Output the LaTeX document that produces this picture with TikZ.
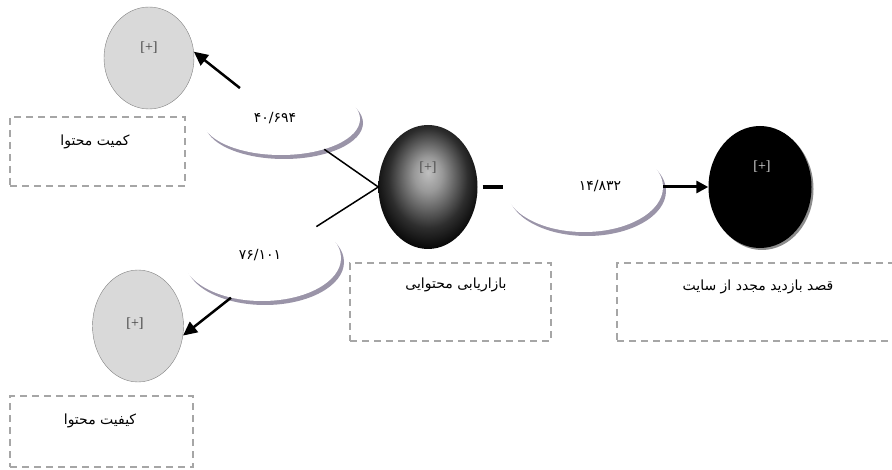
\documentclass[tikz,border=0pt]{standalone}
\usepackage{fontspec}
\setmainfont{Liberation Serif}
\newfontfamily\arabicfont[Script=Arabic]{DejaVu Sans}
\TeXXeTstate=1
\usetikzlibrary{shapes.geometric,shadows,arrows.meta}
\definecolor{greynode}{HTML}{D9D9D9}
\definecolor{boxgrey}{HTML}{A6A6A6}
\definecolor{shadowpurple}{HTML}{9A94A8}
\pgfdeclareradialshading{mktball}{\pgfpoint{0bp}{6bp}}{color(0bp)=(black!25); color(7bp)=(black!40); color(20bp)=(black!82); color(29bp)=(black); color(50bp)=(black)}

\begin{document}
\begin{tikzpicture}[x=1pt,y=-1pt]
            \tikzstyle{grey node}=[ellipse,draw=black!50,fill=greynode,inner sep=0pt]
            \tikzstyle{value node}=[ellipse,fill=white,inner sep=0pt,minimum width=158pt,drop shadow={fill=shadowpurple,opacity=1,shadow xshift=3pt,shadow yshift=-4pt}]
            \tikzstyle{label box}=[draw=boxgrey,line width=1.5pt,dash pattern=on 7pt off 5pt,inner sep=0pt]
            \tikzstyle{plus text}=[text=black!75,font=\fontsize{14}{16}\selectfont]
            \tikzstyle{fa text}=[font=\arabicfont\fontsize{14}{17}\selectfont,inner sep=0pt]
            \tikzstyle{thick arrow}=[line width=2.5pt,-{Triangle[length=14pt,width=13pt]}]
            \useasboundingbox (0,0) rectangle (892,470);

            \node[grey node,minimum width=90pt,minimum height=102pt] (qtyNode) at (149,58) {};
            \node[grey node,minimum width=91pt,minimum height=112pt] (qualNode) at (138,326) {};
            \node[ellipse,shading=mktball,inner sep=0pt,minimum width=99pt,minimum height=124pt] (mktNode) at (428,187) {};
            \node[ellipse,fill=black,inner sep=0pt,minimum width=103pt,minimum height=122pt,drop shadow={fill=black!45,opacity=1,shadow xshift=2pt,shadow yshift=-2pt}] (revNode) at (760,187) {};

            \node[plus text] (qtyPlus) at ([yshift=10pt]qtyNode.center) {[+]};
            \node[plus text] (qualPlus) at ([xshift=-3pt,yshift=2pt]qualNode.center) {[+]};
            \node[plus text,text=black!70] (mktPlus) at ([yshift=19pt]mktNode.center) {[+]};
            \node[plus text,text=white!85!black] (revPlus) at ([xshift=2pt,yshift=20pt]revNode.center) {[+]};

            \node[value node,minimum height=72pt] (qtyValue) at (281,119) {};
            \node[value node,minimum height=86pt] (qualValue) at (262,258) {};
            \node[value node,minimum height=90pt] (revValue) at (584,187) {};
            \node[fa text] (qtyNum) at (275,118) {۴۰/۶۹۴};
            \node[fa text] (qualNum) at (260,255) {۷۶/۱۰۱};
            \node[fa text] (revNum) at (600,186) {۱۴/۸۳۲};

            \node[label box,minimum width=175pt,minimum height=69pt] (qtyBox) at (97.5,151.5) {};
            \node[label box,minimum width=183pt,minimum height=71pt] (qualBox) at (101.5,431.5) {};
            \node[label box,minimum width=201pt,minimum height=78pt] (mktBox) at (450.5,302) {};
            \node[label box,minimum width=400pt,minimum height=78pt] (revBox) at (817,302) {};
            \node[fa text] (qtyText) at (95,142) {\beginR کمیت محتوا\endR};
            \node[fa text] (qualText) at (100,421) {\beginR کیفیت محتوا\endR};
            \node[fa text] (mktText) at (456,285) {\beginR بازاریابی محتوایی\endR};
            \node[fa text] (revText) at (758,287) {\beginR قصد بازدید مجدد از سایت\endR};

            \draw[thick arrow] (qtyValue.143) -- (qtyNode.8);
            \draw[line width=1.5pt] (qtyValue.-35) -- (mktNode.west) -- (qualValue.30);
            \draw[thick arrow] (qualValue.-128) -- (qualNode.-12);
            \draw[line width=4pt,shorten <=5pt,shorten >=2pt] (mktNode.east) -- (revValue.west);
            \draw[line width=3pt,-{Triangle[length=12pt,width=12pt]}] (revValue.east) -- (revNode.west);
        \end{tikzpicture}
\end{document}
